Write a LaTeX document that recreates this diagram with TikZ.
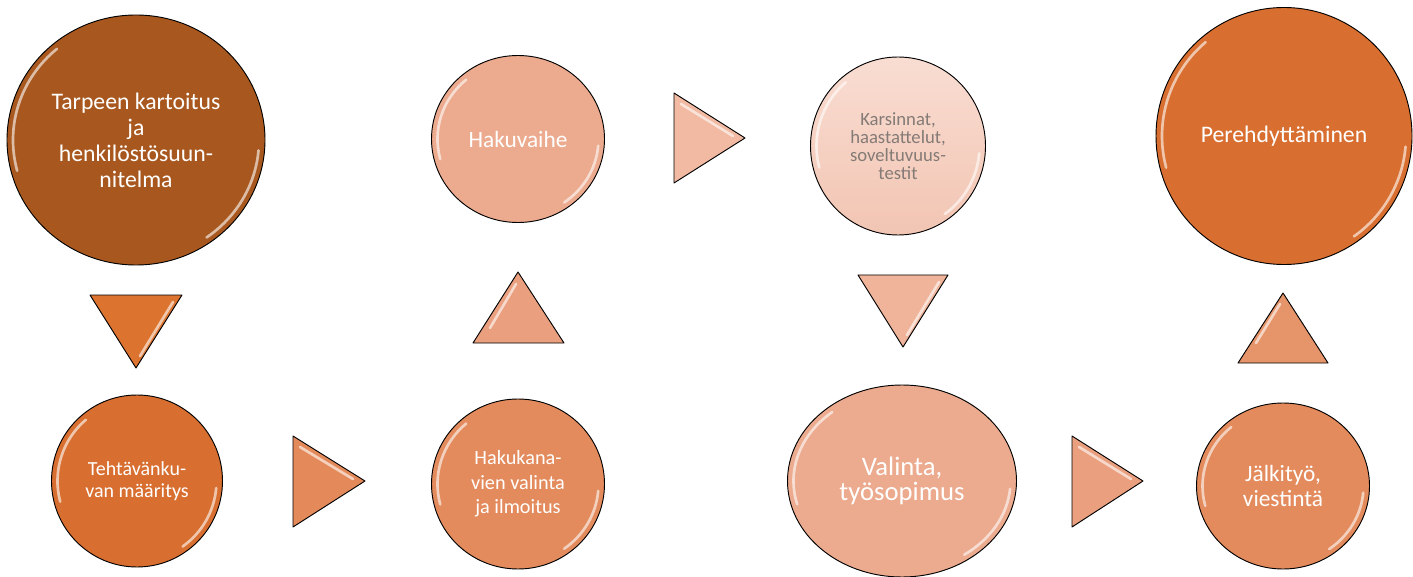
\documentclass[tikz,border=0pt]{standalone}
\usepackage{fontspec}
\setmainfont{Carlito}
\usetikzlibrary{shapes.geometric}
\definecolor{ruskea}{HTML}{A8581F}
\definecolor{oranssi}{HTML}{D86E2F}
\definecolor{kolmio1}{HTML}{DC7430}
\definecolor{lohi}{HTML}{E38B5C}
\definecolor{kolmio2}{HTML}{E48A5A}
\definecolor{kolmio3}{HTML}{EAA07F}
\definecolor{vaalea}{HTML}{ECAA8E}
\definecolor{kolmio4}{HTML}{F2BAA2}
\definecolor{roosa1}{HTML}{F9DDD2}
\definecolor{roosa2}{HTML}{F2C5B3}
\definecolor{kolmio5}{HTML}{EFB49A}
\definecolor{kolmio7}{HTML}{E6956A}
\definecolor{harmaa}{HTML}{847A76}
\tikzset{
	vaihe/.style = {ellipse, draw = black, line width = 0.7pt, inner sep = 0pt, align = center, text = white},
	kiilto/.style = {white, line width = 2pt, opacity = 0.6, line cap = round},
	kolmio/.style = {draw = black, line width = 0.7pt, line join = round}
}

\begin{document}
\begin{tikzpicture}[x = 0.75pt, y = 0.75pt]
		\useasboundingbox (0, 0) rectangle (1413, -577);
		\node[vaihe, fill = ruskea, minimum width = 193.5pt, minimum height = 187.5pt, font = \fontsize{17.8}{19.5}\selectfont] (tarve) at (136, -140) {Tarpeen kartoitus\\ja\\henkilöstösuun-\\nitelma};
		\node[vaihe, fill = oranssi, minimum width = 128.25pt, minimum height = 129pt, font = \fontsize{15}{16.5}\selectfont] (kuva) at (137, -481) {Tehtävänku-\\van määritys};
		\node[vaihe, fill = lohi, minimum width = 129.75pt, minimum height = 127.5pt, font = \fontsize{15.2}{18.5}\selectfont] (kanava) at (518, -484) {Hakukana-\\vien valinta\\ja ilmoitus};
		\node[vaihe, fill = vaalea, minimum width = 129.75pt, minimum height = 125.25pt, font = \fontsize{17.5}{20}\selectfont] (haku) at (518, -139) {Hakuvaihe};
		\node[vaihe, top color = roosa1, bottom color = roosa2, text = harmaa, minimum width = 131.25pt, minimum height = 133.5pt, font = \fontsize{14}{13.6}\selectfont] (karsinta) at (898, -146) {Karsinnat,\\haastattelut,\\soveltuvuus-\\testit};
		\node[vaihe, fill = vaalea, minimum width = 171.75pt, minimum height = 144pt, font = \fontsize{20}{19}\selectfont] (valinta) at (902, -481) {Valinta,\\työsopimus};
		\node[vaihe, fill = lohi, minimum width = 129.75pt, minimum height = 124.5pt, font = \fontsize{17.5}{18.5}\selectfont] (jalki) at (1283, -486) {Jälkityö,\\viestintä};
		\node[vaihe, fill = oranssi, minimum width = 192pt, minimum height = 192.75pt, font = \fontsize{17.8}{20}\selectfont] (pere) at (1284, -136) {Perehdyttäminen};
		\foreach \n/\a/\b in {tarve/129/125, kuva/85.5/86, kanava/86.5/85, haku/86.5/83.5, karsinta/87.5/89, valinta/114.5/96, jalki/86.5/83, pere/128/128.5}{
			\draw[kiilto] (\n.center) ++(130:{\a-6} and {\b-6}) arc[start angle = 130, end angle = 195, x radius = \a-6, y radius = \b-6];
			\draw[kiilto] (\n.center) ++(-5:{\a-6} and {\b-6}) arc[start angle = -5, end angle = -55, x radius = \a-6, y radius = \b-6];
		}
		\draw[kolmio, fill = kolmio1] (90, -295) -- (182, -295) -- (136, -368) -- cycle;
		\draw[kiilto] (173, -302) -- (140, -356);
		\draw[kolmio, fill = kolmio2] (293, -436) -- (365, -481) -- (293, -527) -- cycle;
		\draw[kiilto] (300, -447) -- (353, -479);
		\draw[kolmio, fill = kolmio3] (473, -343) -- (518, -272) -- (564, -343) -- cycle;
		\draw[kiilto] (516, -284) -- (490, -328);
		\draw[kolmio, fill = kolmio4] (674, -93) -- (745, -138) -- (674, -183) -- cycle;
		\draw[kiilto] (681, -104) -- (733, -136);
		\draw[kolmio, fill = kolmio5] (858, -275) -- (948, -275) -- (903, -347) -- cycle;
		\draw[kiilto] (939, -282) -- (907, -335);
		\draw[kolmio, fill = kolmio3] (1072, -436) -- (1143, -481) -- (1072, -527) -- cycle;
		\draw[kiilto] (1079, -447) -- (1131, -479);
		\draw[kolmio, fill = kolmio7] (1238, -363) -- (1283, -293) -- (1328, -363) -- cycle;
		\draw[kiilto] (1280, -304) -- (1256, -343);
	\end{tikzpicture}
\end{document}
